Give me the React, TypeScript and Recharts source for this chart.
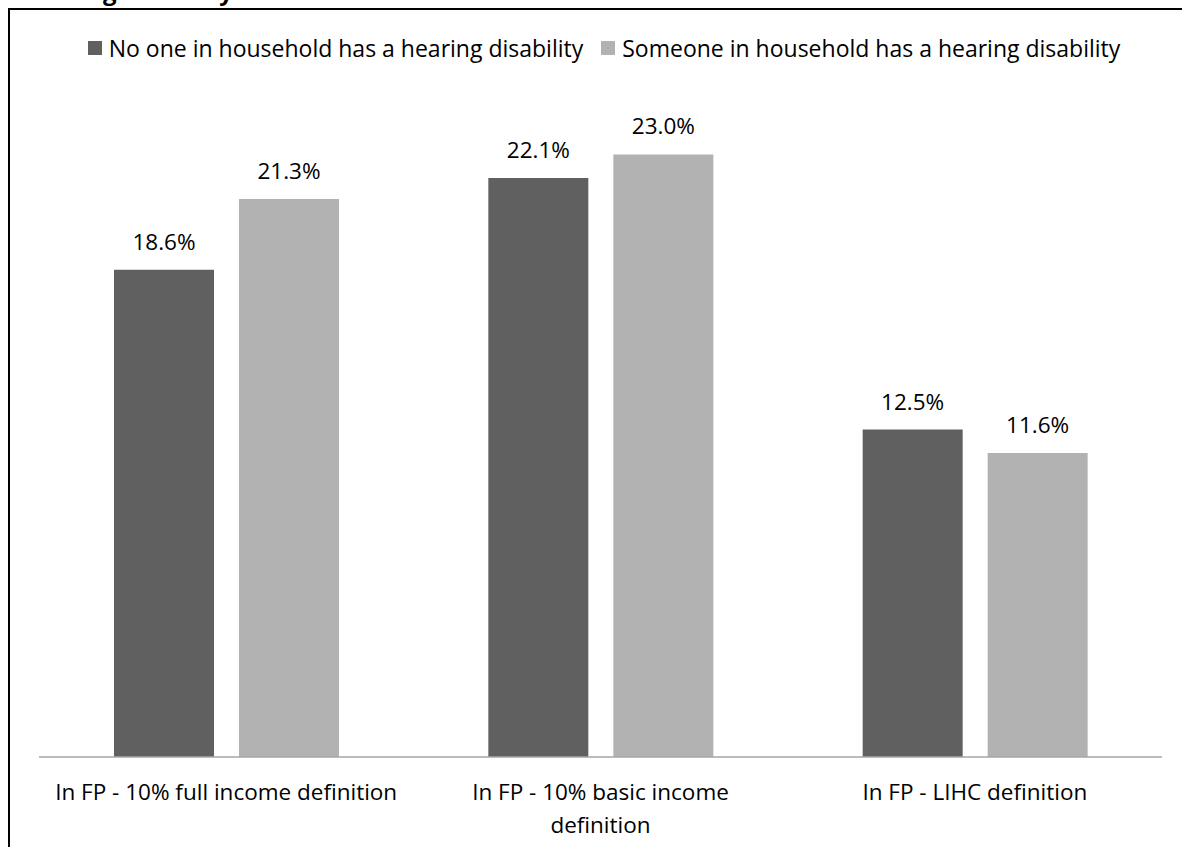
import React from 'react';
import { Bar, BarChart, LabelList, Legend, XAxis, YAxis } from 'recharts';

const categories = [
  'In FP - 10% full income definition',
  'In FP - 10% basic income\ndefinition',
  'In FP - LIHC definition',
];
const noHearingDisability = [18.6, 22.1, 12.5];
const someoneHearingDisability = [21.3, 23.0, 11.6];
const seriesNames = [
  'No one in household has a hearing disability',
  'Someone in household has a hearing disability',
];

const FONT = '"Open Sans", sans-serif';
const COLORS = ['#606060', '#b2b2b2'];

const data = categories.map((c, i) => ({
  name: c,
  none: noHearingDisability[i],
  someone: someoneHearingDisability[i],
}));

const CategoryTick = ({ x, y, payload }: any) => {
  const lines = String(payload.value).split('\n');
  return (
    <text x={x} y={y} textAnchor="middle" fontFamily={FONT} fontSize={22.5} fill="#000">
      {lines.map((l, i) => (
        <tspan key={i} x={x} dy={i === 0 ? 35 : 33}>
          {l}
        </tspan>
      ))}
    </text>
  );
};

const renderLegend = () => (
  <div
    style={{
      display: 'flex',
      justifyContent: 'center',
      alignItems: 'center',
      fontFamily: FONT,
      fontSize: 23,
      color: '#000',
      whiteSpace: 'nowrap',
      paddingLeft: 26,
    }}
  >
    {seriesNames.map((n, i) => (
      <span key={n} style={{ display: 'inline-flex', alignItems: 'center', marginRight: i === 0 ? 18 : 0 }}>
        <span style={{ width: 14, height: 14, background: COLORS[i], marginRight: 7, display: 'inline-block' }} />
        {n}
      </span>
    ))}
  </div>
);

const fmt = (v: any) => `${Number(v).toFixed(1)}%`;

export default function App() {
  return (
    <div style={{ position: 'fixed', left: 0, top: 0, width: 1182, height: 847, overflow: 'hidden', background: '#fff' }}>
      <div
        style={{
          position: 'absolute',
          right: 949,
          top: -25,
          lineHeight: '32px',
          fontFamily: FONT,
          fontSize: 24,
          fontWeight: 'bold',
          whiteSpace: 'nowrap',
        }}
      >
        by whether someone in household has a hearing disability
      </div>
      <div
        style={{
          position: 'absolute',
          left: 8,
          top: 8,
          width: 1300,
          height: 1000,
          borderLeft: '2px solid #000',
          borderTop: '2px solid #000',
        }}
      />
      <div style={{ position: 'absolute', left: 0, top: 0 }}>
        <BarChart
          width={1182}
          height={847}
          data={data}
          margin={{ top: 102, right: 20, bottom: 0, left: 39 }}
          barSize={100}
          barGap={25}
        >
          <XAxis
            dataKey="name"
            height={90}
            interval={0}
            tickLine={false}
            axisLine={{ stroke: '#a6a6a6', strokeWidth: 1.5 }}
            tick={<CategoryTick />}
          />
          <YAxis hide domain={[0, 25]} />
          <Legend
            verticalAlign="middle"
            align="center"
            content={renderLegend}
            wrapperStyle={{ top: 32, left: 0, width: 1182 }}
          />
          <Bar dataKey="none" name={seriesNames[0]} fill={COLORS[0]} isAnimationActive={false}>
            <LabelList
              dataKey="none"
              position="top"
              offset={20}
              formatter={fmt}
              style={{ fontFamily: FONT, fontSize: 22.5, fill: '#000' }}
            />
          </Bar>
          <Bar dataKey="someone" name={seriesNames[1]} fill={COLORS[1]} isAnimationActive={false}>
            <LabelList
              dataKey="someone"
              position="top"
              offset={20}
              formatter={fmt}
              style={{ fontFamily: FONT, fontSize: 22.5, fill: '#000' }}
            />
          </Bar>
        </BarChart>
      </div>
    </div>
  );
}
